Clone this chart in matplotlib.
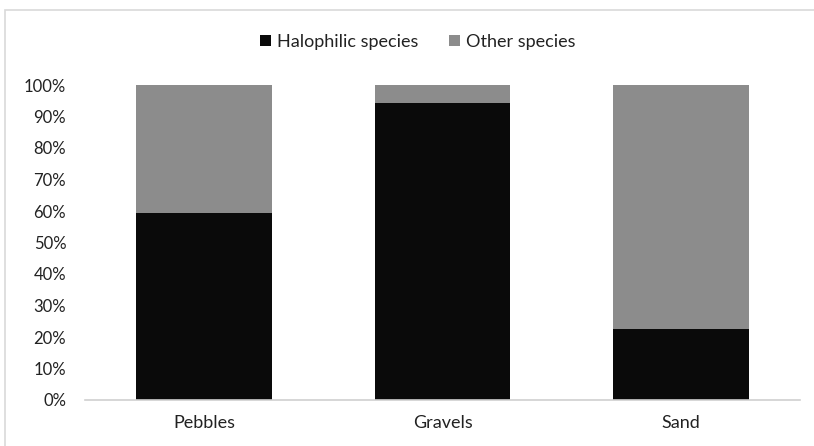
import numpy as np
import matplotlib
matplotlib.use("Agg")
from matplotlib import pyplot as plt
from matplotlib.patches import Rectangle

categories = ['Pebbles', 'Gravels', 'Sand']
halophilic = [59.3, 94.2, 22.6]
other = [100 - v for v in halophilic]
yticks = list(range(0, 101, 10))

plt.rcParams['font.family'] = ['Lato', 'DejaVu Sans']

fig = plt.figure(figsize=(8.14, 4.46), dpi=100)
ax = fig.add_axes([85 / 814, 1 - 400 / 446, 715 / 814, 315 / 446])

x = np.arange(len(categories))
ax.bar(x, halophilic, width=0.57, color='#0a0a0a', label='Halophilic species')
ax.bar(x, other, width=0.57, bottom=halophilic, color='#8c8c8c', label='Other species')

ax.set_xlim(-0.5, len(categories) - 0.5)
ax.set_ylim(0, 100)
ax.set_yticks(yticks)
ax.set_yticklabels([f'{t}%' for t in yticks])
ax.set_xticks(x)
ax.set_xticklabels(categories)
ax.tick_params(axis='y', length=0, pad=13.5, labelsize=12, colors='#222222')
ax.tick_params(axis='x', length=0, pad=11, labelsize=13, colors='#222222')
for s in ['top', 'right', 'left']:
    ax.spines[s].set_visible(False)
ax.spines['bottom'].set_color('#d0d0d0')
ax.spines['bottom'].set_linewidth(1.2)

fig.legend(loc='center', bbox_to_anchor=(418 / 814, 1 - 42 / 446), ncol=2, frameon=False,
           fontsize=13, handlelength=0.6, handleheight=0.6, handletextpad=0.35,
           columnspacing=1.7, labelcolor='#222222')

fig.patches.append(Rectangle((4.5 / 814, -0.1), 1.2, 1.1 - 10 / 446, transform=fig.transFigure,
                             fill=False, edgecolor='#d9d9d9', linewidth=1.2))

fig.savefig('out.png', dpi=100)
